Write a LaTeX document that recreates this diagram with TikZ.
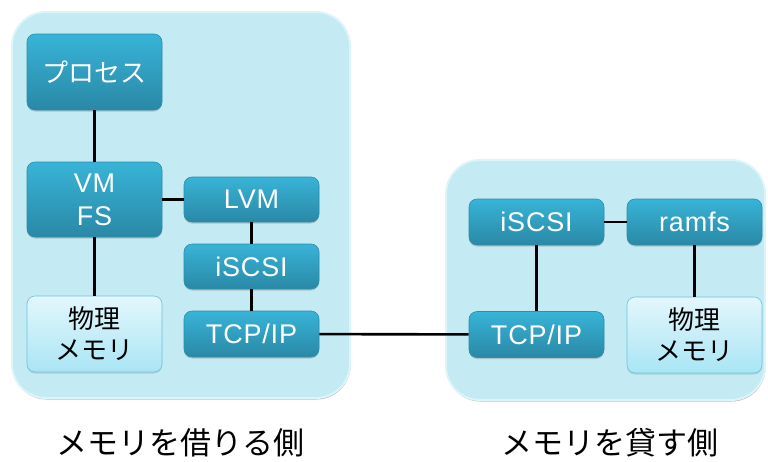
\documentclass[tikz,border=0pt]{standalone}
\usepackage{fontspec}
\setmainfont{Noto Sans CJK JP}
\newfontfamily\latinf[LetterSpace=3]{Liberation Sans}
\usetikzlibrary{shadows}
\definecolor{grpfill}{HTML}{C4EAF3}
\definecolor{grprim}{HTML}{DDF4F9}
\definecolor{darktop}{HTML}{38B4D7}
\definecolor{darkbot}{HTML}{2A88A6}
\definecolor{darkedge}{HTML}{2C8EAB}
\definecolor{lighttop}{HTML}{E3F7FC}
\definecolor{lightbot}{HTML}{A9E5F5}
\definecolor{lightedge}{HTML}{6CC3DD}
\tikzset{
  grp/.style={rectangle, rounded corners=34pt, fill=grpfill, draw=grprim, line width=2pt,
    inner sep=0pt, drop shadow={shadow xshift=0.5pt, shadow yshift=-1.5pt, opacity=0.45, fill=black!60}},
  darkbox/.style={rectangle, rounded corners=8pt, top color=darktop, bottom color=darkbot,
    draw=darkedge, line width=0.6pt, text=white, inner sep=0pt, minimum width=135pt,
    align=center, font=\fontsize{26}{32}\selectfont,
    drop shadow={shadow xshift=0pt, shadow yshift=-1.5pt, opacity=0.35}},
  latinbox/.style={darkbox, font=\latinf\fontsize{27}{33}\selectfont},
  lightbox/.style={rectangle, rounded corners=8pt, top color=lighttop, bottom color=lightbot,
    draw=lightedge, line width=0.6pt, text=black, inner sep=0pt, minimum width=135pt,
    align=center, font=\fontsize{26}{31}\selectfont,
    drop shadow={shadow xshift=0pt, shadow yshift=-1.5pt, opacity=0.25}},
  conn/.style={draw=black, line width=2.6pt},
  caption/.style={font=\fontsize{31}{36}\selectfont, text=black, inner sep=0pt}
}
\begin{document}
\begin{tikzpicture}[x=1pt,y=-1pt]
\useasboundingbox (0,0) rectangle (768,461);
% containers
\node[grp, minimum width=338pt, minimum height=386pt] (grpL) at (181,205) {};
\node[grp, minimum width=319pt, minimum height=240pt] (grpR) at (605.5,280) {};
% left side nodes
\node[darkbox, minimum height=76pt] (proc) at (94.5,72) {プロセス};
\node[latinbox, minimum height=75pt] (vmfs) at (94.5,199.5) {VM\\FS};
\node[lightbox, minimum height=76pt] (memL) at (94.5,334) {物理\\メモリ};
\node[latinbox, minimum height=45pt] (lvm) at (251.5,199.5) {LVM};
\node[latinbox, minimum height=45pt] (iscsiL) at (251.5,266.5) {iSCSI};
\node[latinbox, minimum height=46pt] (tcpL) at (251.5,334) {TCP/IP};
% right side nodes
\node[latinbox, minimum height=46pt] (iscsiR) at (536.5,222) {iSCSI};
\node[latinbox, minimum height=46pt] (ramfs) at (694.5,222) {ramfs};
\node[latinbox, minimum height=46pt] (tcpR) at (536.5,334.5) {TCP/IP};
\node[lightbox, minimum height=76pt] (memR) at (694.5,335) {物理\\メモリ};
% connectors
\draw[conn] (proc) -- (vmfs);
\draw[conn] (vmfs) -- (memL);
\draw[conn] (vmfs) -- (lvm);
\draw[conn] (lvm) -- (iscsiL);
\draw[conn] (iscsiL) -- (tcpL);
\draw[conn] (tcpL) -- (tcpR);
\draw[conn] (iscsiR) -- (tcpR);
\draw[conn] (iscsiR) -- (ramfs);
\draw[conn] (ramfs) -- (memR);
% captions
\node[caption] (capL) at (180,443) {メモリを借りる側};
\node[caption] (capR) at (610,443) {メモリを貸す側};
\end{tikzpicture}
\end{document}
